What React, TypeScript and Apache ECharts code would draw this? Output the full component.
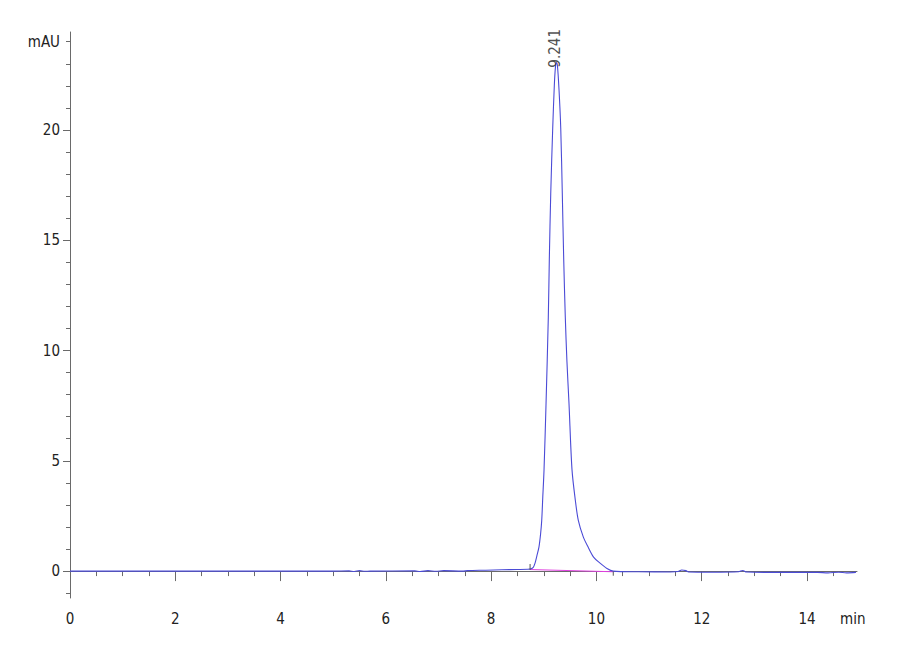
import React, { useEffect, useRef } from "react";
import * as echarts from "echarts";

// Chromatogram trace (time in min, absorbance in mAU)
const times = [
  0, 1.1, 3.0, 5.0, 5.3, 5.4, 5.5, 5.6, 5.7, 6.55, 6.65, 6.8, 6.95, 7.1, 7.45, 7.55, 7.65, 7.9, 8.2, 8.5, 8.7,
  8.75, 8.8, 8.834, 8.87, 8.909, 8.94, 8.961, 8.98, 9.005, 9.043, 9.086, 9.105, 9.132, 9.17, 9.2, 9.22, 9.241,
  9.26, 9.29, 9.322, 9.352, 9.379, 9.409, 9.44, 9.479, 9.536, 9.6, 9.656, 9.75, 9.84, 9.95, 10.068, 10.2, 10.32,
  10.8, 11.4, 11.55, 11.62, 11.7, 11.75, 12.2, 12.7, 12.78, 12.85, 13.5, 14.2, 14.4, 14.6, 14.75, 14.93,
];
const mAU = [
  0, 0, 0, 0, 0.01, -0.02, 0.02, -0.01, 0, 0.01, -0.02, 0.02, -0.01, 0.02, 0, 0.02, 0.03, 0.04, 0.06, 0.07, 0.08,
  0.1, 0.17, 0.36, 0.7, 1.1, 1.7, 2.3, 3.3, 4.6, 7.6, 11.5, 14.1, 17.1, 20.1, 22.0, 22.8, 23.05,
  22.9, 21.8, 20.1, 17.1, 14.1, 11.5, 9.5, 7.6, 4.6, 3.2, 2.3, 1.55, 1.1, 0.62, 0.36, 0.12, 0.0,
  -0.03, -0.04, -0.02, 0.05, 0.02, -0.04, -0.05, -0.03, 0.03, -0.04, -0.06, -0.06, -0.08, -0.05, -0.08, -0.06,
];

// Integration baseline and start/end markers
const baselineTimes = [8.74, 10.32];
const baselineValues = [0.07, -0.03];
const startMarker = [[8.74, 0.05], [8.74, 0.32]];
const endMarker = [[10.32, -0.03], [10.32, -0.21]];

// Peak annotation
const peakTime = 9.241;
const peakHeight = 23.05;
const peakLabel = "9.241";

// Axes
const xMin = 0;
const xMax = 14.95;
const xMajorTicks = [0, 2, 4, 6, 8, 10, 12, 14];
const xMinorTicks = [0.5, 1, 1.5, 2.5, 3, 3.5, 4.5, 5, 5.5, 6.5, 7, 7.5, 8.5, 9, 9.5, 10.5, 11, 11.5, 12.5, 13, 13.5, 14.5];
const yMin = -1.22;
const yMax = 24.44;
const yMajorTicks = [0, 5, 10, 15, 20];
const yLabelValues = [0, 5, 10, 15, 20, 24];
const yMinorTicks = [-1, 1, 2, 3, 4, 6, 7, 8, 9, 11, 12, 13, 14, 16, 17, 18, 19, 21, 22, 23, 24];
const yUnit = "mAU";
const xUnit = "min";

const FONT = "'Liberation Sans Narrow', 'DejaVu Sans Condensed', 'Arial Narrow', 'Liberation Sans', sans-serif";
const AXIS_COLOR = "#6a6a6a";
const TEXT_COLOR = "#222";

export default function App() {
  const ref = useRef<HTMLDivElement>(null);

  useEffect(() => {
    if (!ref.current) return;
    const chart = echarts.init(ref.current, undefined, { renderer: "svg" });
    const trace = times.map((t, i) => [t, mAU[i]]);
    const baseline = baselineTimes.map((t, i) => [t, baselineValues[i]]);

    chart.setOption({
      animation: false,
      backgroundColor: "#ffffff",
      grid: { left: 70, right: 43, top: 32, bottom: 62 },
      xAxis: [
        {
          type: "value",
          min: xMin,
          max: xMax,
          axisLine: { show: true, lineStyle: { color: AXIS_COLOR, width: 1 } },
          axisTick: { show: true, length: 10, customValues: xMajorTicks, lineStyle: { color: AXIS_COLOR } },
          axisLabel: {
            show: true,
            customValues: xMajorTicks,
            margin: 13,
            fontSize: 15,
            color: TEXT_COLOR,
            fontFamily: FONT,
          },
          splitLine: { show: false },
        },
        {
          type: "value",
          position: "bottom",
          min: xMin,
          max: xMax,
          axisLine: { show: false },
          axisTick: { show: true, length: 5, customValues: xMinorTicks, lineStyle: { color: AXIS_COLOR } },
          axisLabel: { show: false },
          splitLine: { show: false },
        },
      ],
      yAxis: [
        {
          type: "value",
          min: yMin,
          max: yMax,
          axisLine: { show: true, lineStyle: { color: AXIS_COLOR, width: 1 } },
          axisTick: { show: true, length: 7, customValues: yMajorTicks, lineStyle: { color: AXIS_COLOR } },
          axisLabel: {
            show: true,
            customValues: yLabelValues,
            formatter: (v: number) => (v === 24 ? yUnit : String(v)),
            margin: 10,
            fontSize: 15,
            color: TEXT_COLOR,
            fontFamily: FONT,
          },
          splitLine: { show: false },
        },
        {
          type: "value",
          position: "left",
          min: yMin,
          max: yMax,
          axisLine: { show: false },
          axisTick: { show: true, length: 4, customValues: yMinorTicks, lineStyle: { color: AXIS_COLOR } },
          axisLabel: { show: false },
          splitLine: { show: false },
        },
      ],
      graphic: [
        {
          type: "text",
          left: 840,
          top: 611,
          style: { text: xUnit, fontSize: 15, fill: TEXT_COLOR, fontFamily: FONT },
        },
      ],
      series: [
        {
          type: "line",
          data: baseline,
          symbol: "none",
          lineStyle: { color: "#e040e0", width: 1 },
          z: 2,
        },
        {
          type: "line",
          data: trace,
          symbol: "none",
          smooth: 0.3,
          lineStyle: { color: "#4b4bd6", width: 1.1 },
          z: 3,
        },
        {
          type: "line",
          data: startMarker,
          symbol: "none",
          lineStyle: { color: "#555", width: 1 },
          z: 4,
        },
        {
          type: "line",
          data: endMarker,
          symbol: "none",
          lineStyle: { color: "#555", width: 1 },
          z: 4,
        },
        {
          type: "scatter",
          data: [[peakTime, peakHeight]],
          symbolSize: 0,
          z: 5,
          label: {
            show: true,
            formatter: peakLabel,
            position: [0, 0],
            rotate: 90,
            align: "left",
            verticalAlign: "middle",
            offset: [-5, -1],
            fontSize: 15,
            color: TEXT_COLOR,
            fontFamily: FONT,
          },
        },
      ],
    });

    return () => chart.dispose();
  }, []);

  return (
    <div
      ref={ref}
      style={{ position: "fixed", left: 0, top: 0, width: 900, height: 660, background: "#fff" }}
    />
  );
}
